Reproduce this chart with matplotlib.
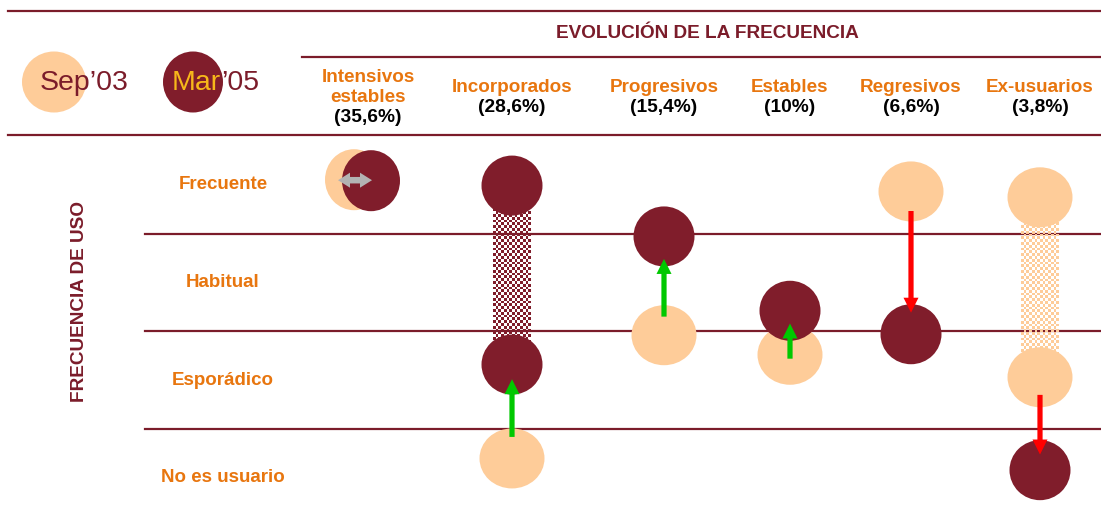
import numpy as np
import matplotlib
matplotlib.use("Agg")
import matplotlib.pyplot as plt
from matplotlib.patches import Ellipse, FancyArrow
from matplotlib.colors import to_rgba

plt.rcParams['font.family'] = ['Liberation Sans', 'DejaVu Sans']

# ---------------- data ----------------
groups = ["Intensivos\nestables", "Incorporados", "Progresivos", "Estables", "Regresivos", "Ex-usuarios"]
shares = ["(35,6%)", "(28,6%)", "(15,4%)", "(10%)", "(6,6%)", "(3,8%)"]
levels = ["No es usuario", "Esporádico", "Habitual", "Frecuente"]   # level value 0..3
# frequency position (level units) of each cohort, per period
sep03 = [[3.05], [0.20], [1.46], [1.26], [2.93], [2.87, 1.03]]
mar05 = [[3.04], [2.99, 1.16], [2.47], [1.71], [1.47], [0.08]]
# movement arrows (start, end) in level units; None = stable (double arrow)
arrow_from = [None, 0.42, 1.65, 1.22, 2.73, 0.85]
arrow_to = [None, 1.01, 2.24, 1.58, 1.69, 0.24]
legend_labels = ["Sep\u201903", "Mar\u201905"]
title = "EVOLUCIÓN DE LA FRECUENCIA"
ylabel = "FRECUENCIA DE USO"

# ---------------- layout / style ----------------
W, H, DPI = 1101, 521, 100
ROW0_PX, STEP = 478.0, 97.8          # pixel row of level 0, pixels per level
col_x = [368, 512, 664, 790, 911, 1040]
dx_sep = [-14, 0, 0, 0, 0, 0]
dx_mar = [3, 0, 0, 0, 0, 0]
SEP_W, SEP_H = 65, 60
MAR_W, MAR_H = 61, 60
INT_W, INT_H = 58, 61
BAND_W = 38
DARK = "#801d2b"
LIGHT = "#fecc99"
LINE = "#7b1c2a"
ORANGE = "#e8760f"
GOLD = "#f7b81a"
GREEN = "#00c800"
RED = "#ff0000"
GREY = "#b3b3b3"

fig = plt.figure(figsize=(W / DPI, H / DPI), dpi=DPI)
fig.patch.set_facecolor("white")

# pixel-space axes for header/legend layout
axp = fig.add_axes([0, 0, 1, 1])
axp.set_xlim(0, W)
axp.set_ylim(H, 0)
axp.axis("off")

# data axes: x in pixel columns, y in frequency levels
ax = fig.add_axes([0, 0, 1, 1])
ylim = ((ROW0_PX - H) / STEP, ROW0_PX / STEP)
ax.set_xlim(0, W)
ax.set_ylim(*ylim)
ax.axis("off")
ax.patch.set_visible(False)

# header lines
axp.plot([8, W], [11, 11], color=LINE, lw=1.6)
axp.plot([302, W], [57, 57], color=LINE, lw=1.6)
axp.plot([8, W], [135, 135], color=LINE, lw=1.6)

# title
axp.text(707, 34, title, ha="center", va="center", color=LINE,
         fontsize=13.7, fontweight="bold")

# column headers
for gx, name, share in zip(col_x, groups, shares):
    lines = name.split("\n")
    share_y = 97 + 10 * len(lines)
    axp.text(gx, share_y, share, ha="center", va="center", color="black",
             fontsize=13.8, fontweight="bold")
    for k, ln in enumerate(reversed(lines)):
        axp.text(gx, share_y - 20 * (k + 1), ln, ha="center", va="center",
                 color=ORANGE, fontsize=13.6, fontweight="bold")

# legend
axp.add_patch(Ellipse((54, 82), 64, 61, facecolor=LIGHT, edgecolor="none"))
axp.add_patch(Ellipse((193, 82), 60, 61, facecolor=DARK, edgecolor="none"))
axp.text(40, 83, legend_labels[0], ha="left", va="center", color=LINE, fontsize=20.5)
mar_txt, rest_txt = legend_labels[1][:3], legend_labels[1][3:]
axp.text(172, 83, mar_txt, ha="left", va="center", color=GOLD, fontsize=20.5)
axp.text(259, 83, rest_txt, ha="right", va="center", color=LINE, fontsize=20.5)

# y label
axp.text(79, 301, ylabel, ha="center", va="center", rotation=90, color=LINE,
         fontsize=13.7, fontweight="bold")

# row labels and separators
for v, lab in enumerate(levels):
    ax.text(223, v, lab, ha="center", va="center", color=ORANGE,
            fontsize=13.5, fontweight="bold")
for v in range(len(levels) - 1):
    ax.plot([145, W], [v + 0.5, v + 0.5], color=LINE, lw=1.6, zorder=1)


def checker(color, w_px, h_px, cell=2.8):
    nx = max(2, int(round(w_px / cell)))
    ny = max(2, int(round(h_px / cell)))
    arr = np.zeros((ny, nx, 4))
    jj, ii = np.meshgrid(np.arange(nx), np.arange(ny))
    arr[(ii + jj) % 2 == 0] = to_rgba(color)
    return arr


# bands where a period spans two levels
for gi in range(len(groups)):
    for vals, col in ((mar05[gi], DARK), (sep03[gi], LIGHT)):
        if len(vals) > 1:
            lo, hi = min(vals), max(vals)
            img = checker(col, BAND_W, (hi - lo) * STEP)
            ax.imshow(img, extent=(col_x[gi] - BAND_W / 2, col_x[gi] + BAND_W / 2, lo, hi),
                      interpolation="nearest", aspect="auto", zorder=2)

# circles
for gi in range(len(groups)):
    single = arrow_from[gi] is None
    for v in sep03[gi]:
        w, h = (INT_W, INT_H) if single else (SEP_W, SEP_H)
        ax.add_patch(Ellipse((col_x[gi] + dx_sep[gi], v), w, h / STEP,
                             facecolor=LIGHT, edgecolor="none", zorder=3))
    for v in mar05[gi]:
        w, h = (INT_W, INT_H) if single else (MAR_W, MAR_H)
        ax.add_patch(Ellipse((col_x[gi] + dx_mar[gi], v), w, h / STEP,
                             facecolor=DARK, edgecolor="none", zorder=4))

# arrows
for gi in range(len(groups)):
    x = col_x[gi]
    if arrow_from[gi] is None:
        yv = np.mean(sep03[gi] + mar05[gi])
        xc = x - 13
        for d in (-17, 17):
            ax.add_patch(FancyArrow(xc, yv, d, 0, width=6.5 / STEP, head_width=15 / STEP,
                                    head_length=12, length_includes_head=True,
                                    facecolor=GREY, edgecolor="none", zorder=6))
    else:
        col = GREEN if arrow_to[gi] > arrow_from[gi] else RED
        ax.add_patch(FancyArrow(x, arrow_from[gi], 0, arrow_to[gi] - arrow_from[gi],
                                width=5.2, head_width=15, head_length=15 / STEP,
                                length_includes_head=True,
                                facecolor=col, edgecolor="none", zorder=6))

ax.set_xlim(0, W)
ax.set_ylim(*ylim)

fig.savefig("out.png", dpi=DPI, facecolor="white")
